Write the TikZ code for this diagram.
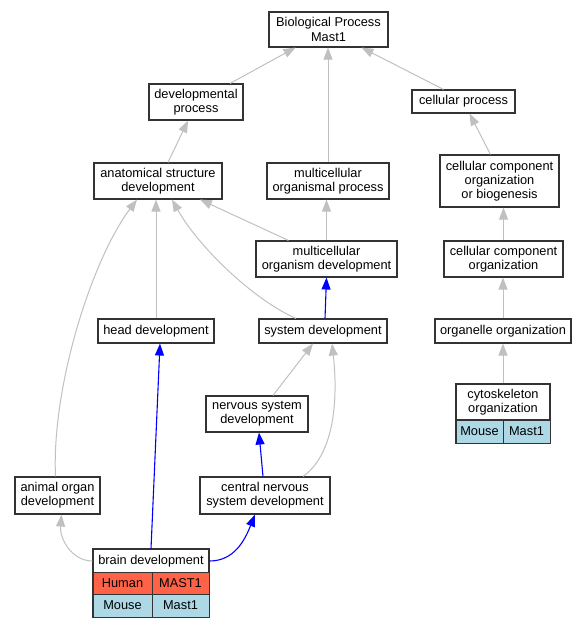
\documentclass[tikz,border=0pt]{standalone}
\usepackage{fontspec}
\setmainfont{Liberation Sans}
\usetikzlibrary{arrows.meta}

\definecolor{edgegray}{HTML}{C0C0C0}
\definecolor{boxline}{HTML}{333333}
\definecolor{humancol}{HTML}{FF6347}
\definecolor{mousecol}{HTML}{ADD8E6}

\tikzset{
  term/.style={draw=boxline, line width=1.1pt, fill=white, align=center, inner sep=0pt,
    font=\fontsize{12.8}{14.2}\selectfont},
  cell/.style={draw=boxline, line width=0.9pt, inner sep=0pt, minimum height=23pt,
    font=\fontsize{12.8}{14.2}\selectfont},
  isa/.style={edgegray, line width=1pt, -{Triangle[width=9pt,length=12pt]}},
  part/.style={blue, line width=1.1pt, -{Triangle[width=9pt,length=12pt]}},
}

\begin{document}
\begin{tikzpicture}[x=1pt,y=-1pt]
  \useasboundingbox (0,0) rectangle (588,627);

  % terms
  \node[term, minimum width=119pt, minimum height=35pt] (bp) at (328.5,29.5) {Biological Process\\Mast1};
  \node[term, minimum width=94pt, minimum height=36pt] (devproc) at (196,102) {developmental\\process};
  \node[term, minimum width=103pt, minimum height=23pt] (cellproc) at (463.5,101.5) {cellular process};
  \node[term, minimum width=128pt, minimum height=36pt] (anat) at (158,181) {anatomical structure\\development};
  \node[term, minimum width=122pt, minimum height=36pt] (mop) at (328,181) {multicellular\\organismal process};
  \node[term, minimum width=119pt, minimum height=52pt] (ccob) at (499.5,181) {cellular component\\organization\\or biogenesis};
  \node[term, minimum width=141pt, minimum height=36pt] (mod) at (326.5,259) {multicellular\\organism development};
  \node[term, minimum width=119pt, minimum height=36pt] (cco) at (503.5,259) {cellular component\\organization};
  \node[term, minimum width=116pt, minimum height=24pt] (head) at (156,331) {head development};
  \node[term, minimum width=128pt, minimum height=24pt] (sysdev) at (323,331) {system development};
  \node[term, minimum width=136pt, minimum height=24pt] (organelle) at (503,331) {organelle organization};
  \node[term, minimum width=102pt, minimum height=36pt] (nsd) at (257,414) {nervous system\\development};
  \node[term, minimum width=85pt, minimum height=37pt] (organ) at (57.5,495.5) {animal organ\\development};
  \node[term, minimum width=130pt, minimum height=37pt] (cnsd) at (265,495.5) {central nervous\\system development};

  % annotated terms
  \node[term, minimum width=94pt, minimum height=36pt] (cyto) at (503,402) {cytoskeleton\\organization};
  \node[cell, fill=mousecol, minimum width=47pt] (cytomouse) at (479.5,431.5) {Mouse};
  \node[cell, fill=mousecol, minimum width=47pt] (cytogene) at (526.5,431.5) {Mast1};
  \draw[boxline, line width=1.1pt] (cyto.north west) rectangle (cytogene.south east);

  \node[term, minimum width=116pt, minimum height=23pt] (brain) at (151,561) {brain development};
  \node[cell, fill=humancol, minimum width=59pt] (brainhuman) at (122.5,583.5) {Human};
  \node[cell, fill=humancol, minimum width=57pt] (brainhgene) at (180.5,583.5) {MAST1};
  \node[cell, fill=mousecol, minimum width=59pt] (brainmouse) at (122.5,605.5) {Mouse};
  \node[cell, fill=mousecol, minimum width=57pt] (brainmgene) at (180.5,605.5) {Mast1};
  \draw[boxline, line width=1.1pt] (brain.north west) rectangle (brainmgene.south east);

  % is_a edges
  \draw[isa] ([xshift=34pt]devproc.north) -- ([xshift=-33pt]bp.south);
  \draw[isa] (mop.north) -- (mop.north |- bp.south);
  \draw[isa] ([xshift=-20pt]cellproc.north) -- ([xshift=33pt]bp.south);
  \draw[isa] ([xshift=10pt]anat.north) -- ([xshift=-8pt]devproc.south);
  \draw[isa] ([xshift=-9pt]ccob.north) -- ([xshift=6pt]cellproc.south);
  \draw[isa] ([xshift=-38pt]mod.north) -- ([xshift=42pt]anat.south);
  \draw[isa] (mod.north) -- (mod.north |- mop.south);
  \draw[isa] (cco.north) -- (cco.north |- ccob.south);
  \draw[isa] (head.north) -- (head.north |- anat.south);
  \draw[isa] ([xshift=-27pt]sysdev.north) .. controls +(-45,-20) and +(25,45) .. ([xshift=14pt]anat.south);
  \draw[isa] (organelle.north) -- (organelle.north |- cco.south);
  \draw[isa] (cyto.north) -- (cyto.north |- organelle.south);
  \draw[isa] ([xshift=16pt]nsd.north) -- ([xshift=-10pt]sysdev.south);
  \draw[isa] ([xshift=38pt]cnsd.north) .. controls +(35,-25) and +(5,45) .. ([xshift=9pt]sysdev.south);
  \draw[isa] ([xshift=-2pt]organ.north) .. controls +(-4,-90) and +(-45,60) .. ([xshift=-21pt]anat.south);
  \draw[isa] (brain.west) .. controls +(-20,0) and +(-2,25) .. ([xshift=4pt]organ.south);

  % part_of edges
  \draw[part] ([xshift=2pt]sysdev.north) -- (mod.south);
  \draw[part] ([xshift=-2pt]cnsd.north) -- ([xshift=2pt]nsd.south);
  \draw[part] (brain.north) -- ([xshift=4pt]head.south);
  \draw[part] (brain.east) .. controls +(25,0) and +(-10,25) .. ([xshift=-10pt]cnsd.south);
\end{tikzpicture}
\end{document}
